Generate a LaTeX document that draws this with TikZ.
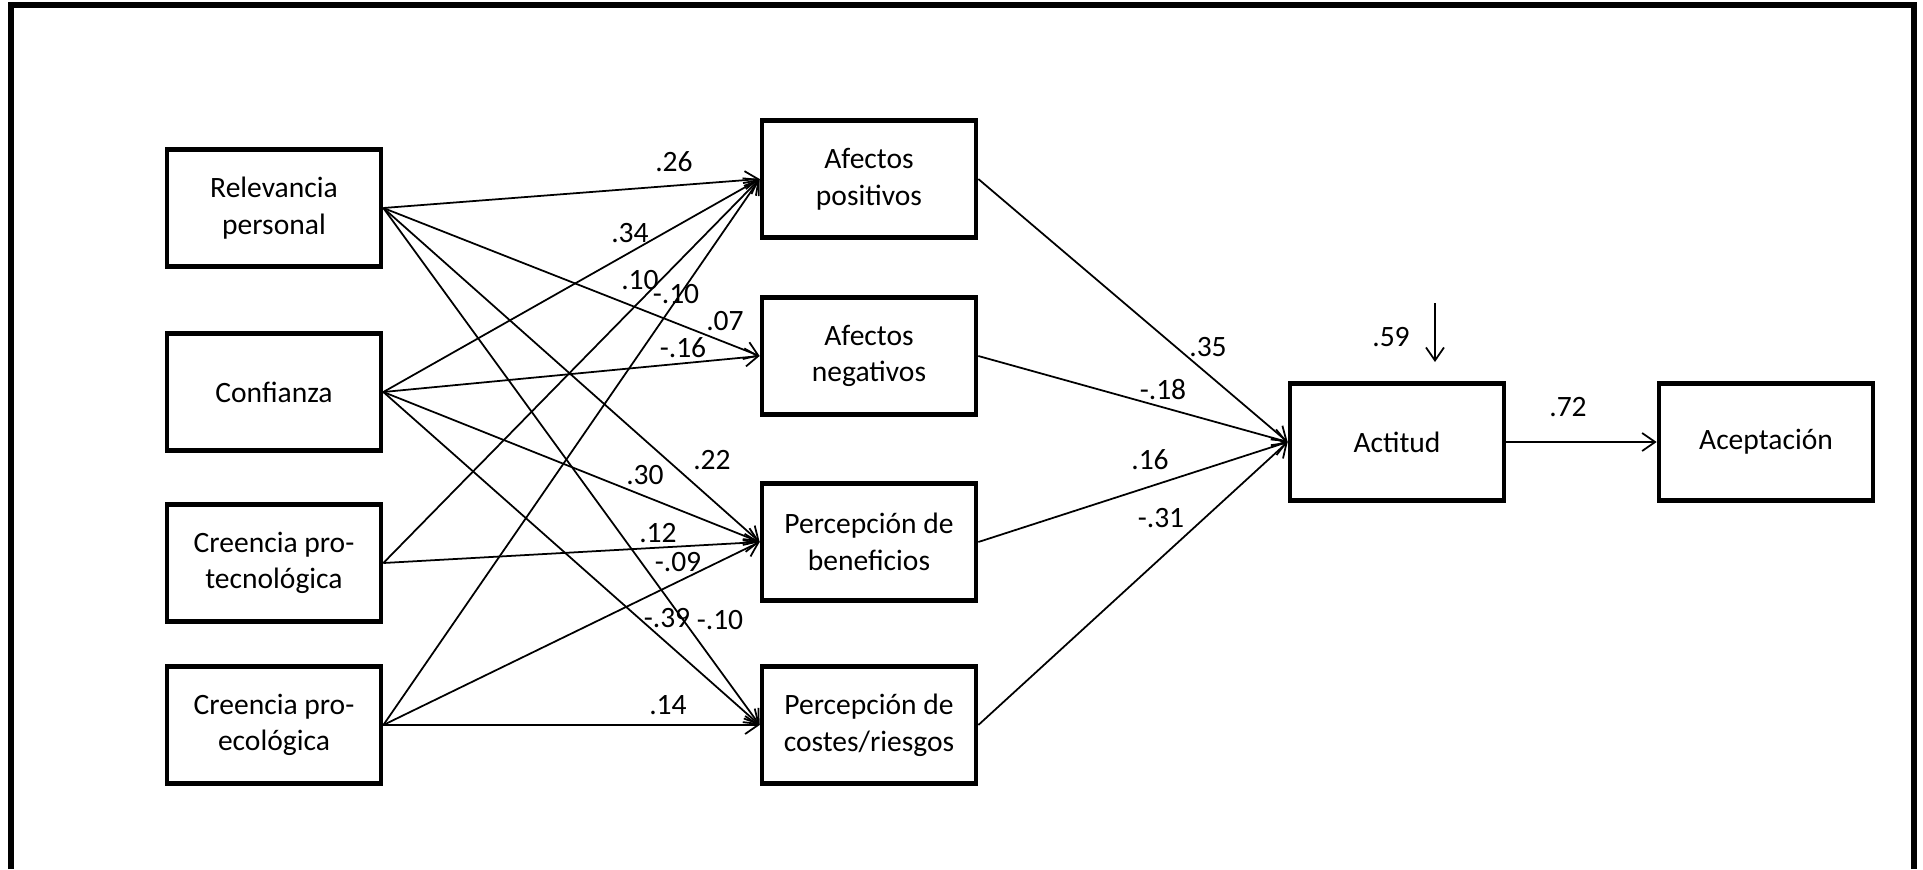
\documentclass[tikz,border=0pt]{standalone}
\usepackage{fontspec}
\setmainfont{Carlito}
\usetikzlibrary{arrows.meta}
\begin{document}
\begin{tikzpicture}[x=0.01cm,y=-0.01cm,
    varbox/.style={draw, line width=1.3pt, minimum width=2.14cm, minimum height=1.17cm,
      align=center, inner sep=0pt, font=\fontsize{8.4}{10.4}\selectfont},
    link/.style={line width=0.5pt, -{Straight Barb[length=1.3mm,width=1.8mm]}},
    coef/.style={font=\fontsize{8.4}{10.4}\selectfont, inner sep=0pt}]
    \useasboundingbox (0,0) rectangle (1923,869);

    % Outer frame
    \draw[line width=1.45pt] (11,869) -- (11,5) -- (1914,5) -- (1914,869);

    % Predictors
    \node[varbox] (rel) at (274,208) {Relevancia\\personal};
    \node[varbox] (conf) at (274,392) {Confianza};
    \node[varbox] (tec) at (274,563) {Creencia pro-\\tecnológica};
    \node[varbox] (eco) at (274,725) {Creencia pro-\\ecológica};

    % Mediators
    \node[varbox] (apos) at (869,179) {Afectos\\positivos};
    \node[varbox] (aneg) at (869,356) {Afectos\\negativos};
    \node[varbox] (pben) at (869,542) {Percepción de\\beneficios};
    \node[varbox] (pcos) at (869,725) {Percepción de\\costes/riesgos};

    % Outcomes
    \node[varbox] (act) at (1397,442) {Actitud};
    \node[varbox] (acep) at (1766,442) {Aceptación};

    % Paths from predictors to mediators
    \foreach \src/\dst in {rel/apos, rel/aneg, rel/pben, rel/pcos,
                           conf/apos, conf/aneg, conf/pben, conf/pcos,
                           tec/apos, tec/pben,
                           eco/apos, eco/pben, eco/pcos}
        \draw[link] (\src.east) -- (\dst.west);

    % Paths from mediators to attitude
    \foreach \src in {apos, aneg, pben, pcos}
        \draw[link] (\src.east) -- (act.west);
    \draw[link] (act.east) -- (acep.west);

    % Explained variance
    \coordinate (r2top) at (1435,303);
    \coordinate (r2end) at (1435,362);
    \draw[link] (r2top) -- (r2end);

    % Coefficients
    \node[coef] (c26) at (674,162) {.26};
    \node[coef] (c34) at (630,233) {.34};
    \node[coef] (c10a) at (640,280) {.10};
    \node[coef] (c10b) at (676,294) {-.10};
    \node[coef] (c07) at (725,321) {.07};
    \node[coef] (c16n) at (683,348) {-.16};
    \node[coef] (c22) at (712,460) {.22};
    \node[coef] (c30) at (645,475) {.30};
    \node[coef] (c12) at (658,533) {.12};
    \node[coef] (c09) at (678,562) {-.09};
    \node[coef] (c39) at (667,618) {-.39};
    \node[coef] (c10c) at (720,620) {-.10};
    \node[coef] (c14) at (668,705) {.14};
    \node[coef] (c35) at (1208,347) {.35};
    \node[coef] (c18) at (1163,390) {-.18};
    \node[coef] (c16p) at (1150,460) {.16};
    \node[coef] (c31) at (1161,518) {-.31};
    \node[coef] (c59) at (1391,337) {.59};
    \node[coef] (c72) at (1568,407) {.72};

\end{tikzpicture}
\end{document}
